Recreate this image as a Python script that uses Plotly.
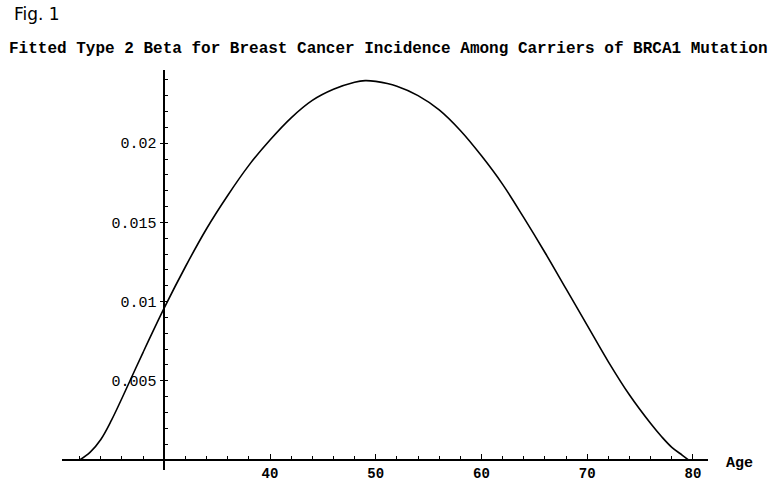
import plotly.graph_objects as go

# Data
ages = [22, 23, 24, 25, 26, 28, 30, 32, 34, 36, 38, 40, 42, 44, 46, 48, 49, 50, 52,
        54, 56, 58, 60, 62, 64, 66, 68, 70, 72, 74, 76, 77, 78, 79, 79.6]
incidence = [0.0, 0.0005, 0.0013, 0.0025, 0.0039, 0.0068, 0.0096, 0.0122, 0.0146,
             0.0167, 0.0186, 0.0202, 0.0216, 0.0227, 0.0234, 0.02385, 0.02395, 0.0239,
             0.0236, 0.0230, 0.0221, 0.0208, 0.0192, 0.0174, 0.0153, 0.0131, 0.0108,
             0.0085, 0.0062, 0.0041, 0.0023, 0.0015, 0.0008, 0.0003, 0.0]

x_tick_vals = [40, 50, 60, 70, 80]
x_tick_text = ["40", "50", "60", "70", "80"]
y_tick_vals = [0.005, 0.01, 0.015, 0.02]
y_tick_text = ["0.005", "0.01", "0.015", "0.02"]

title_text = "Fitted Type 2 Beta for Breast Cancer Incidence Among Carriers of BRCA1 Mutation"
fig_label = "Fig. 1"
x_label = "Age"

x_range = [20.33, 81.42]
y_range = [-0.00063, 0.02462]
x_cross = 30
y_cross = 0

mono = "Liberation Mono, Courier New, monospace"

fig = go.Figure()
fig.add_trace(go.Scatter(
    x=ages, y=incidence, mode="lines",
    line=dict(color="black", width=1.6, shape="spline", smoothing=1.0),
    hoverinfo="skip", showlegend=False,
))

fig.update_layout(
    width=769, height=485,
    margin=dict(l=62, r=61, t=70, b=15),
    plot_bgcolor="white", paper_bgcolor="white",
    showlegend=False,
    xaxis=dict(
        range=x_range, showgrid=False, zeroline=False,
        showline=True, linecolor="black", linewidth=1.5,
        anchor="free",
        position=(y_cross - y_range[0]) / (y_range[1] - y_range[0]),
        tickmode="array", tickvals=x_tick_vals, ticktext=x_tick_text,
        ticks="inside", ticklen=5, tickwidth=1, tickcolor="black",
        tickfont=dict(family=mono, size=14, color="black", weight="bold"),
        minor=dict(dtick=2, tick0=0, ticks="inside", ticklen=3,
                   tickwidth=1, tickcolor="black", showgrid=False),
        automargin=False,
    ),
    yaxis=dict(
        range=y_range, showgrid=False, zeroline=False,
        showline=True, linecolor="black", linewidth=1.5,
        anchor="free",
        position=(x_cross - x_range[0]) / (x_range[1] - x_range[0]),
        tickmode="array", tickvals=y_tick_vals, ticktext=y_tick_text,
        ticks="outside", ticklen=4, tickwidth=1, tickcolor="black",
        tickfont=dict(family=mono, size=15, color="black"),
        minor=dict(dtick=0.001, tick0=0, ticks="inside", ticklen=3,
                   tickwidth=1, tickcolor="black", showgrid=False),
        automargin=False,
    ),
    annotations=[
        dict(text=title_text, xref="paper", yref="paper",
             x=0.5, y=1, xanchor="center", yanchor="bottom", yshift=10,
             xshift=3,
             showarrow=False,
             font=dict(family=mono, size=16, color="black", weight="bold")),
        dict(text=fig_label, xref="paper", yref="paper",
             x=0, y=1, xanchor="left", yanchor="bottom", xshift=-50, yshift=44,
             showarrow=False,
             font=dict(family="DejaVu Sans", size=17, color="black")),
        dict(text=x_label, xref="x", yref="y",
             x=x_range[1], y=y_cross, xanchor="left", yanchor="middle",
             xshift=16, yshift=-3, showarrow=False,
             font=dict(family=mono, size=15, color="black", weight="bold")),
    ],
)

fig.write_html("out.html")
